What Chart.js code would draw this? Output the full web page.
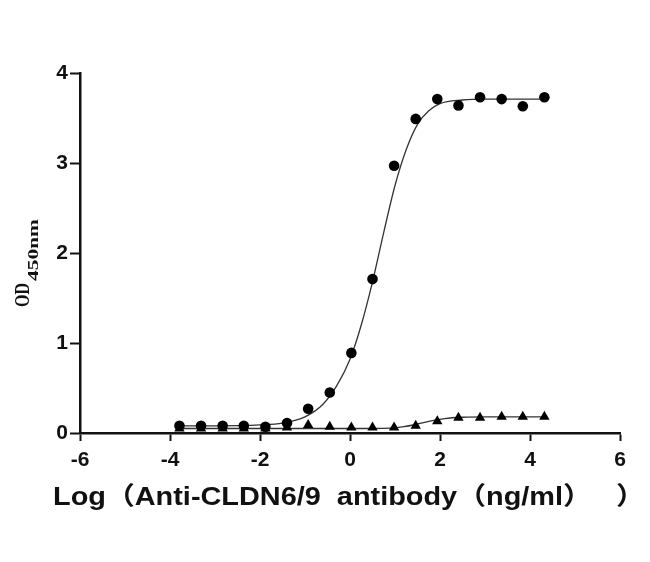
<!DOCTYPE html>
<html>
<head>
<meta charset="utf-8">
<script src="https://cdn.jsdelivr.net/npm/chart.js@4.4.1/dist/chart.umd.min.js"></script>
<style>
  html, body { margin: 0; padding: 0; background: #fff; }
  #wrap { width: 650px; height: 562px; }
</style>
</head>
<body>
<div id="wrap"><canvas id="myChart" width="650" height="562"></canvas></div>
<script>
// log10 of antibody dose (3-fold dilutions)
const doseLog = [-3.79, -3.31, -2.83, -2.36, -1.88, -1.40, -0.93, -0.45, 0.03, 0.50, 0.98, 1.46, 1.94, 2.41, 2.89, 3.37, 3.84, 4.32];
// measured OD450, CLDN6/9 antigen (circles)
const cldnOD = [0.08, 0.08, 0.08, 0.08, 0.07, 0.11, 0.27, 0.45, 0.89, 1.71, 2.97, 3.49, 3.71, 3.64, 3.73, 3.71, 3.63, 3.73];
// measured OD450, control (triangles)
const controlOD = [0.05, 0.05, 0.05, 0.05, 0.05, 0.06, 0.09, 0.07, 0.06, 0.06, 0.06, 0.08, 0.13, 0.17, 0.17, 0.18, 0.18, 0.18];

// fitted curves
const fitCldnX = [-3.79, -3.0, -2.0, -1.5, -1.0, -0.6, -0.3, 0.0, 0.25, 0.5, 0.75, 1.0, 1.25, 1.5, 1.75, 2.0, 2.5, 3.0, 3.5, 4.32];
const fitCldnY = [0.08, 0.08, 0.09, 0.11, 0.18, 0.32, 0.52, 0.82, 1.2, 1.68, 2.23, 2.75, 3.15, 3.43, 3.58, 3.66, 3.70, 3.71, 3.71, 3.71];
const fitCtrlX = [-3.79, -2.0, 0.0, 0.9, 1.2, 1.5, 1.8, 2.1, 2.5, 3.0, 4.32];
const fitCtrlY = [0.05, 0.05, 0.05, 0.055, 0.07, 0.10, 0.135, 0.16, 0.175, 0.18, 0.18];

const xTicks = [-6, -4, -2, 0, 2, 4, 6];
const yTicks = [0, 1, 2, 3, 4];

const xTitle = 'Log（Anti-CLDN6/9  antibody（ng/ml）   ）';
const xTitleFitPart = 'Log（Anti-CLDN6/9  antibody（ng/ml';
const yTitleMain = 'OD';
const yTitleSub = '450nm';

function pts(xs, ys) {
    return xs.map((x, i) => ({ x: x, y: ys[i] }));
}

const tickFont = { family: '"Liberation Sans", Arial, sans-serif', size: 21, weight: 'bold' };

// draws both axis titles (the original text is a bit stretched sideways)
const axisTitles = {
    id: 'axisTitles',
    afterDraw(chart) {
        const ctx = chart.ctx;
        ctx.save();
        ctx.fillStyle = '#111';
        ctx.textBaseline = 'alphabetic';
        ctx.textAlign = 'left';

        // x title
        ctx.font = 'bold 25px "Liberation Sans", Arial, "Noto Sans CJK SC", sans-serif';
        const xw = ctx.measureText(xTitleFitPart).width;
        ctx.save();
        ctx.translate(53, 505);
        ctx.scale(510 / xw, 1);
        ctx.fillText(xTitle, 0, 0);
        ctx.restore();

        // y title with subscript
        ctx.translate(28.5, 307);
        ctx.rotate(-Math.PI / 2);
        ctx.scale(1, 1.25);
        ctx.font = 'bold 16px "Liberation Serif", "Times New Roman", serif';
        ctx.fillText(yTitleMain, 0, 0);
        const w = ctx.measureText(yTitleMain).width;
        ctx.font = 'bold 12px "Liberation Serif", "Times New Roman", serif';
        const sw = ctx.measureText(yTitleSub).width;
        ctx.translate(w + 2, 7.6);
        ctx.scale(62 / sw, 1);
        ctx.fillText(yTitleSub, 0, 0);
        ctx.restore();
    }
};

var ctx = document.getElementById('myChart').getContext('2d');
var chart = new Chart(ctx, {
    type: 'scatter',
    data: {
        datasets: [{
            label: 'CLDN6/9 fit',
            data: pts(fitCldnX, fitCldnY),
            showLine: true,
            cubicInterpolationMode: 'monotone',
            borderColor: '#333',
            borderWidth: 1.3,
            pointRadius: 0,
            order: 3
        }, {
            label: 'Control fit',
            data: pts(fitCtrlX, fitCtrlY),
            showLine: true,
            cubicInterpolationMode: 'monotone',
            borderColor: '#333',
            borderWidth: 1.3,
            pointRadius: 0,
            order: 3
        }, {
            label: 'Control',
            data: pts(doseLog, controlOD),
            pointStyle: 'triangle',
            pointRadius: 6,
            backgroundColor: '#000',
            borderColor: '#000',
            borderWidth: 0,
            order: 2
        }, {
            label: 'CLDN6/9',
            data: pts(doseLog, cldnOD),
            pointStyle: 'circle',
            pointRadius: 5.3,
            backgroundColor: '#000',
            borderColor: '#000',
            borderWidth: 0,
            order: 1
        }]
    },
    options: {
        responsive: false,
        animation: false,
        layout: { padding: { top: 73, right: 30, bottom: 0, left: 0 } },
        plugins: {
            legend: { display: false },
            tooltip: { enabled: false }
        },
        scales: {
            x: {
                type: 'linear',
                min: -6,
                max: 6,
                afterBuildTicks: (scale) => { scale.ticks = xTicks.map(v => ({ value: v })); },
                afterFit: (scale) => { scale.height = 129; },
                grid: { drawOnChartArea: false, drawTicks: true, tickLength: 8, tickWidth: 2, tickColor: '#111' },
                border: { color: '#111', width: 2.5 },
                ticks: { color: '#111', font: tickFont, padding: 7, maxRotation: 0 }
            },
            y: {
                type: 'linear',
                min: 0,
                max: 4,
                afterBuildTicks: (scale) => { scale.ticks = yTicks.map(v => ({ value: v })); },
                afterFit: (scale) => { scale.width = 80; },
                grid: { drawOnChartArea: false, drawTicks: true, tickLength: 10, tickWidth: 2, tickColor: '#111' },
                border: { color: '#111', width: 2.5 },
                ticks: { color: '#111', font: tickFont, padding: 2 }
            }
        }
    },
    plugins: [axisTitles]
});
</script>
</body>
</html>
